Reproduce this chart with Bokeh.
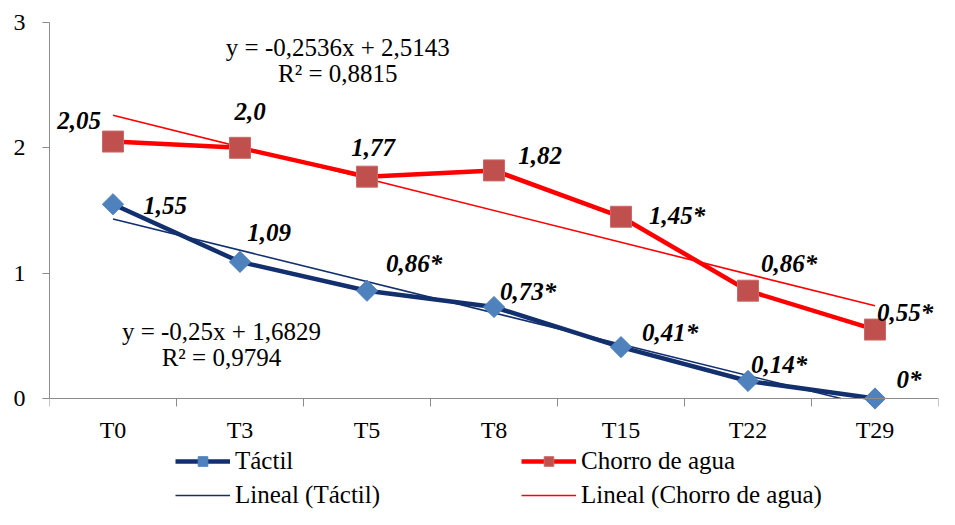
import numpy as np
from bokeh.plotting import figure
from bokeh.models import Range1d, FixedTicker, Legend, LegendItem, ColumnDataSource
from bokeh.core.properties import value
from bokeh.embed import file_html
from bokeh.resources import INLINE

categories = ["T0", "T3", "T5", "T8", "T15", "T22", "T29"]
tactil = [1.55, 1.09, 0.86, 0.73, 0.41, 0.14, 0.0]
chorro = [2.05, 2.0, 1.77, 1.82, 1.45, 0.86, 0.55]
tactil_labels = ["1,55", "1,09", "0,86*", "0,73*", "0,41*", "0,14*", "0*"]
chorro_labels = ["2,05", "2,0", "1,77", "1,82", "1,45*", "0,86*", "0,55*"]
y_ticks = [0, 1, 2, 3]
tactil_eq = ["y = -0,25x + 1,6829", "R² = 0,9794"]
chorro_eq = ["y = -0,2536x + 2,5143", "R² = 0,8815"]

# label offsets (screen px) relative to each point
tactil_dx = [52, 29, 47, 34, 49, 31, 34]
tactil_dy = [1, -29, -27, -16, -15, -16, -19]
chorro_dx = [-34, 10, 6, 46, 56, 41, 30]
chorro_dy = [-21, -36, -29, -15, -1, -27, -17]

FONT = "Liberation Serif"
NAVY = "#12306E"
BLUE = "#4F81BD"
RED = "#FF0000"
SQ = "#C0504D"
GRAY = "#8C8C8C"

# layout: frame covers plot + legend strip; value axis occupies top 376 px
TOP, PLOT_H, FRAME_H, FRAME_W = 22, 376, 487, 889
Y_MAX = 3.0
y_min = -(FRAME_H - PLOT_H) * Y_MAX / PLOT_H

x = np.arange(1, len(categories) + 1)

p = figure(frame_width=FRAME_W, frame_height=FRAME_H, output_backend="svg", toolbar_location=None,
           x_range=Range1d(0.5, len(categories) + 0.5), y_range=Range1d(y_min, Y_MAX),
           min_border_left=49, min_border_right=1, min_border_top=TOP, min_border_bottom=0)
p.outline_line_color = None
p.xgrid.visible = False
p.ygrid.visible = False
p.background_fill_color = "white"
p.border_fill_color = "white"

# axes
p.yaxis.ticker = FixedTicker(ticks=y_ticks)
p.yaxis.bounds = (0, Y_MAX)
p.yaxis.axis_line_color = GRAY
p.yaxis.major_tick_line_color = GRAY
p.yaxis.major_tick_out = 7
p.yaxis.major_tick_in = 0
p.yaxis.minor_tick_line_color = None
p.yaxis.major_label_standoff = 17
p.yaxis.major_label_text_font = FONT
p.yaxis.major_label_text_font_size = "24px"
p.yaxis.major_label_text_color = "black"

p.xaxis.fixed_location = 0
p.xaxis.ticker = FixedTicker(ticks=list(x), minor_ticks=list(np.arange(0.5, len(categories) + 1, 1.0)))
p.xaxis.major_label_overrides = {int(i): c for i, c in zip(x, categories)}
p.xaxis.axis_line_color = GRAY
p.xaxis.major_tick_line_color = None
p.xaxis.major_tick_out = 0
p.xaxis.major_tick_in = 0
p.xaxis.minor_tick_line_color = GRAY
p.xaxis.minor_tick_out = 8
p.xaxis.minor_tick_in = 0
p.xaxis.major_label_standoff = 10
p.xaxis.major_label_text_font = FONT
p.xaxis.major_label_text_font_size = "24px"
p.xaxis.major_label_text_color = "black"

# trendlines (linear fits, drawn down to the zero line like the original)
t_fit = np.polyfit(x, tactil, 1)
c_fit = np.polyfit(x, chorro, 1)
def trend_x(fit):
    root = -fit[1] / fit[0]
    return np.array([x[0], min(x[-1], root)])
tx_t, tx_c = trend_x(t_fit), trend_x(c_fit)
tr_t = p.line(tx_t, np.polyval(t_fit, tx_t), line_color=NAVY, line_width=1.6)
tr_c = p.line(tx_c, np.polyval(c_fit, tx_c), line_color=RED, line_width=1.6)

# series
src_t = ColumnDataSource(dict(x=x, y=tactil, lab=tactil_labels, dx=tactil_dx, dy=tactil_dy))
src_c = ColumnDataSource(dict(x=x, y=chorro, lab=chorro_labels, dx=chorro_dx, dy=chorro_dy))

l_t = p.line("x", "y", source=src_t, line_color=NAVY, line_width=4.5)
m_t = p.scatter("x", "y", source=src_t, marker="square", angle=np.pi / 4, size=15,
                fill_color=BLUE, line_color=BLUE)
l_c = p.line("x", "y", source=src_c, line_color=RED, line_width=4.5)
m_c = p.scatter("x", "y", source=src_c, marker="square", size=21,
                fill_color=SQ, line_color="#C96A68")

for src in (src_t, src_c):
    p.text("x", "y", text="lab", source=src, x_offset="dx", y_offset="dy",
           text_font=value(FONT), text_font_size="25px", text_font_style="bold italic",
           text_color="black", text_align="center", text_baseline="middle")

# equations
p.text([2.77, 2.77], [2.80, 2.593], text=chorro_eq, text_font=value(FONT), text_font_size="25px",
       text_color="black", text_align="center", text_baseline="middle")
p.text([1.854, 1.854], [0.535, 0.327], text=tactil_eq, text_font=value(FONT), text_font_size="25px",
       text_color="black", text_align="center", text_baseline="middle")

legend = Legend(items=[
    LegendItem(label="Táctil", renderers=[l_t, m_t]),
    LegendItem(label="Chorro de agua", renderers=[l_c, m_c]),
    LegendItem(label="Lineal (Táctil)", renderers=[tr_t]),
    LegendItem(label="Lineal (Chorro de agua)", renderers=[tr_c]),
], ncols=2, orientation="horizontal", location=(126, 0),
    border_line_color=None, background_fill_alpha=0, padding=0, margin=0,
    glyph_width=55, glyph_height=24, label_height=24, label_width=280, spacing=6,
    label_standoff=5, label_text_font=FONT, label_text_font_size="25px", label_text_color="black")
p.add_layout(legend)

open("out.html", "w").write(file_html(p, INLINE))
